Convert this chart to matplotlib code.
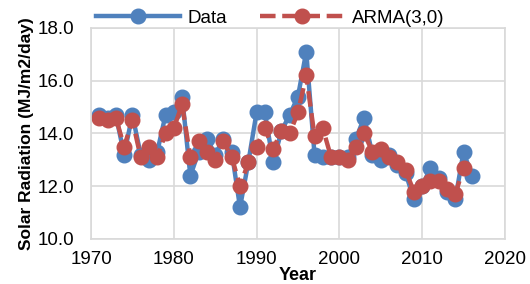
import numpy as np
import matplotlib.pyplot as plt

plt.rcParams['font.family'] = ['Liberation Sans', 'DejaVu Sans']

years = np.arange(1971, 2017)
data = [14.7, 14.6, 14.7, 13.2, 14.7, 13.2, 13.0, 13.3, 14.7, 14.8,
        15.4, 12.4, 13.3, 13.8, 13.2, 13.8, 13.3, 11.2, 12.9, 14.8,
        14.8, 12.9, 14.1, 14.7, 15.4, 17.1, 13.2, 13.1, 13.1, 13.1,
        13.1, 13.8, 14.6, 13.2, 13.0, 13.2, 12.8, 12.5, 11.5, 12.0,
        12.7, 12.3, 11.8, 11.5, 13.3, 12.4]

arma_years = np.arange(1971, 2016)
arma = [14.6, 14.5, 14.6, 13.5, 14.5, 13.1, 13.5, 13.1, 14.0, 14.2,
        15.1, 13.1, 13.7, 13.3, 13.0, 13.7, 13.1, 12.0, 12.9, 13.5,
        14.2, 13.4, 14.1, 14.0, 14.8, 16.2, 13.9, 14.2, 13.1, 13.1,
        13.0, 13.5, 14.0, 13.3, 13.4, 13.1, 12.9, 12.6, 11.8, 12.0,
        12.2, 12.2, 11.9, 11.7, 12.7]

blue = '#4F81BD'
red = '#C0504D'

fig = plt.figure(figsize=(5.3, 2.84), dpi=100)
ax = fig.add_axes([0.1717, 0.1585, 0.781, 0.743])

ax.plot(years, data, color=blue, lw=3.2, marker='o', ms=10.5, label='Data')
ax.plot(arma_years, arma, color=red, lw=3.2, ls='--', dashes=(3.5, 1.5),
        marker='o', ms=10.5, label='ARMA(3,0)')

ax.set_xlim(1970, 2020)
ax.set_ylim(10, 18)
ax.set_xticks(np.arange(1970, 2021, 10))
ax.set_yticks(np.arange(10, 18.1, 2))
ax.yaxis.set_major_formatter(plt.FormatStrFormatter('%.1f'))
ax.tick_params(length=0, labelsize=13.5)
ax.tick_params(axis='y', pad=12)
ax.tick_params(axis='x', pad=9)
ax.grid(True, color='#D9D9D9', lw=1.2)
ax.set_axisbelow(True)
for s in ax.spines.values():
    s.set_color('#D9D9D9')
    s.set_linewidth(1.2)

ax.set_ylabel('Solar Radiation (MJ/m2/day)', fontsize=12.5, fontweight='bold', labelpad=3)
fig.text(298 / 530, 1 - 276 / 284, 'Year', fontsize=13, fontweight='bold',
         ha='center', va='center')

fig.legend(loc='center', bbox_to_anchor=(0.51, 1 - 18 / 284), ncol=2,
           frameon=False, fontsize=13.5, handlelength=4.5, columnspacing=1.75,
           handletextpad=0.4, borderaxespad=0)

plt.savefig('out.png', dpi=100)
